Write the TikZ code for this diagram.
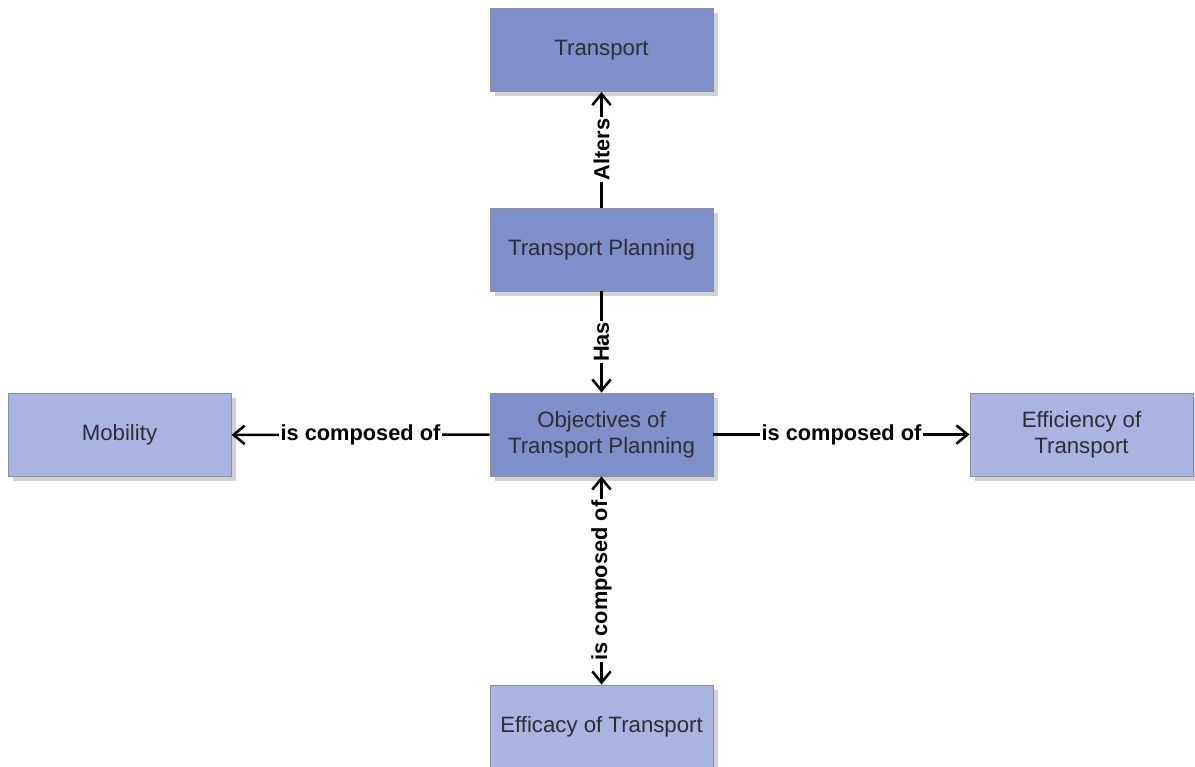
\documentclass[tikz,border=0pt]{standalone}
\usepackage{fontspec}
\setmainfont{Liberation Sans}
\usepackage{tikz}
\usepackage{xcolor}
\usetikzlibrary{arrows.meta,shadows}
\definecolor{boxdark}{RGB}{127,143,201}
\definecolor{boxlight}{RGB}{170,180,226}
\definecolor{boxline}{RGB}{140,140,155}
\definecolor{boxtext}{RGB}{45,45,50}
\tikzset{
	conceptbox/.style={draw=boxline, line width=0.6pt, shape=rectangle, minimum width=5.575cm, minimum height=2.075cm, align=center, text=boxtext, font=\fontsize{15.8}{18.5}\selectfont, drop shadow={shadow xshift=3.5pt, shadow yshift=-3.5pt, opacity=0.25, fill=black!70}},
	darkbox/.style={conceptbox, fill=boxdark},
	lightbox/.style={conceptbox, fill=boxlight},
	link/.style={line width=1.8pt, >={Straight Barb[length=2.8mm, width=4.6mm]}},
	linklabel/.style={midway, fill=white, inner sep=1pt, font=\fontsize{15.5}{18}\selectfont\bfseries}
}

\begin{document}
\begin{tikzpicture}[x=0.025cm, y=-0.025cm]
	\useasboundingbox (0, 0) rectangle (1195, 767);

	\node [darkbox] (transport) at (601.5, 50) {Transport};
	\node [darkbox] (planning) at (601.5, 249.5) {Transport Planning};
	\node [darkbox] (objectives) at (601.5, 434.5) {Objectives of\\Transport Planning};

	\node [lightbox] (mobility) at (119.5, 435) {Mobility};
	\node [lightbox] (efficiency) at (1081.5, 434.5) {Efficiency of\\Transport};
	\node [lightbox] (efficacy) at (601.5, 726.5) {Efficacy of Transport};

	\draw [link, ->] (planning) to node [linklabel, rotate=90] {Alters} (transport);
	\draw [link, ->] (planning) to node [linklabel, rotate=90] {Has} (objectives);
	\draw [link, ->] (objectives) to node [linklabel] {is composed of} (mobility);
	\draw [link, ->] (objectives) to node [linklabel] {is composed of} (efficiency);
	\draw [link, <->] (objectives) to node [linklabel, rotate=90] {is composed of} (efficacy);

\end{tikzpicture}
\end{document}
